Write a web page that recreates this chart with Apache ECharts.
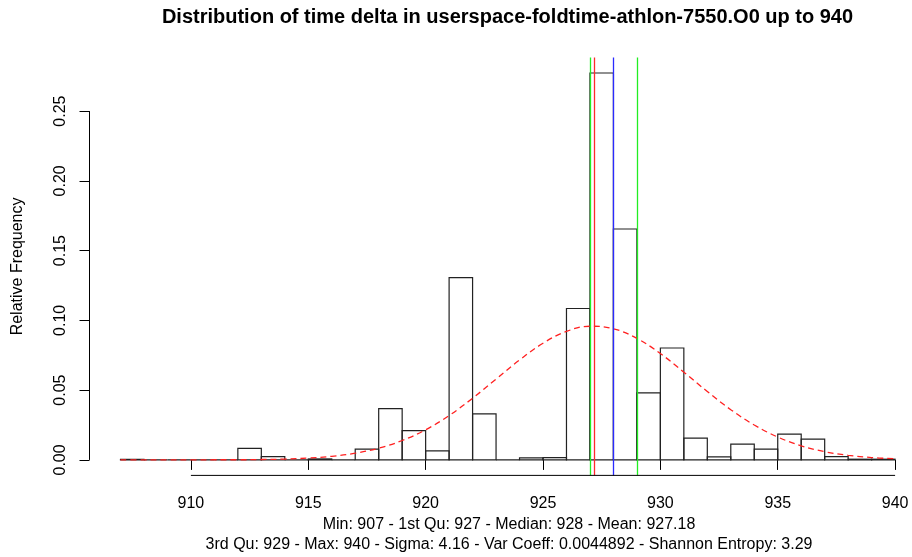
<!DOCTYPE html>
<html><head><meta charset="utf-8">
<script src="https://cdn.jsdelivr.net/npm/echarts@6/dist/echarts.min.js"></script>
<style>html,body{margin:0;padding:0;background:#fff}#c{width:912px;height:557px}</style>
</head><body><div id="c"></div>
<script>
// ---- data ----
const binStarts = [907,908,909,910,911,912,913,914,915,916,917,918,919,920,921,922,923,924,925,926,927,928,929,930,931,932,933,934,935,936,937,938,939];
const binEnds   = [908,909,910,911,912,913,914,915,916,917,918,919,920,921,922,923,924,925,926,927,928,929,930,931,932,933,934,935,936,937,938,939,940];
const relFreq   = [0.0004,0,0,0,0,0.0083,0.0024,0,0.0007,0,0.0077,0.0367,0.0210,0.0065,0.1307,0.0330,0,0.0015,0.0017,0.1085,0.2773,0.1655,0.0481,0.0802,0.0156,0.0022,0.0113,0.0077,0.0185,0.0149,0.0024,0.0005,0.0005];
const curveX = [907,908,909,910,911,912,913,914,915,916,917,918,919,920,921,922,923,924,925,926,927,928,929,930,931,932,933,934,935,936,937,938,939,940];
const curveY = [0,0,0,0,0.0001,0.0001,0.0003,0.0006,0.0013,0.0026,0.0048,0.0084,0.0139,0.0216,0.0318,0.0442,0.0579,0.0716,0.0836,0.0921,0.0958,0.0940,0.0871,0.0762,0.0629,0.0490,0.0360,0.0250,0.0164,0.0101,0.0059,0.0033,0.0017,0.0008];
const statNames  = ['1st Qu','Mean','Median','3rd Qu'];
const statValues = [927, 927.18, 928, 929];
const xTicks = [910,915,920,925,930,935,940];
const yTicks = [0,0.05,0.10,0.15,0.20,0.25];
const yTickLabels = ['0.00','0.05','0.10','0.15','0.20','0.25'];
const titleText = 'Distribution of time delta in userspace-foldtime-athlon-7550.O0 up to 940';
const subLine1 = 'Min: 907 - 1st Qu: 927 - Median: 928 - Mean: 927.18';
const subLine2 = '3rd Qu: 929 - Max: 940 - Sigma: 4.16 - Var Coeff: 0.0044892 - Shannon Entropy: 3.29';

// ---- styles / layout ----
const FONT = '"Liberation Sans", Arial, Helvetica, sans-serif';
const statColors = ['#22ee22','#ff2a2a','#2a2aff','#22ee22'];
const xMin = 905.68, xMax = 940.72, yMin = -0.0111, yMax = 0.2884;

const chart = echarts.init(document.getElementById('c'), null, {renderer:'canvas'});
chart.setOption({
  animation: false,
  backgroundColor: '#fff',
  textStyle: {fontFamily: FONT},
  title: [
    {text: titleText, left: 507.5, textAlign: 'center', top: 7, padding: 0,
     textStyle: {fontFamily: FONT, fontSize: 20, fontWeight: 'bold', color: '#000'}},
    {text: subLine1 + '\n' + subLine2, left: 509, textAlign: 'center', top: 515, padding: 0,
     textStyle: {fontFamily: FONT, fontSize: 16, fontWeight: 'normal', color: '#000', lineHeight: 19.5}}
  ],
  grid: {left: 89.5, top: 57.5, right: 0, height: 417.9, containLabel: false},
  xAxis: {
    type: 'value', min: xMin, max: xMax,
    axisLine: {show: false},
    splitLine: {show: false},
    axisTick: {show: true, length: 10, customValues: xTicks, lineStyle: {color: '#000', width: 1}},
    axisLabel: {show: true, customValues: xTicks, margin: 20, fontSize: 16, color: '#000', fontFamily: FONT,
                formatter: v => String(v)}
  },
  yAxis: {
    type: 'value', min: yMin, max: yMax,
    name: 'Relative Frequency', nameLocation: 'middle', nameRotate: 90, nameGap: 64,
    nameTextStyle: {fontSize: 16, color: '#000', fontFamily: FONT},
    axisLine: {show: false},
    splitLine: {show: false},
    axisTick: {show: true, length: 10, customValues: yTicks, lineStyle: {color: '#000', width: 1}},
    axisLabel: {show: true, customValues: yTicks, rotate: 90, margin: 21, fontSize: 16, color: '#000', fontFamily: FONT,
                formatter: v => yTickLabels[yTicks.findIndex(t => Math.abs(t - v) < 1e-9)] || ''}
  },
  series: [
    {
      type: 'custom', name: 'hist', silent: true, clip: false,
      data: binStarts.map((s, i) => [s, binEnds[i], relFreq[i]]),
      encode: {x: [0, 1], y: 2},
      renderItem: (params, api) => {
        const p1 = api.coord([api.value(0), api.value(2)]);
        const p2 = api.coord([api.value(1), 0]);
        return {type: 'rect',
          shape: {x: p1[0], y: p1[1], width: p2[0] - p1[0], height: p2[1] - p1[1]},
          style: {fill: 'none', stroke: '#222', lineWidth: 1.2}};
      },
      z: 2
    },
    {
      type: 'line', name: 'normal', silent: true, smooth: 0.4, symbol: 'none',
      data: curveX.map((x, i) => [x, curveY[i]]),
      lineStyle: {color: '#ff2020', width: 1.3, type: [6, 4]},
      z: 3
    },
    {
      type: 'line', name: 'stats', silent: true, symbol: 'none', data: [],
      markLine: {
        silent: true, symbol: ['none', 'none'], label: {show: false}, animation: false,
        data: statValues.map((v, i) => ({name: statNames[i], xAxis: v,
          lineStyle: {color: statColors[i], width: 1.3, type: 'solid', opacity: 1}}))
      },
      z: 4
    },
    {
      type: 'line', name: 'xaxisline', silent: true, symbol: 'none', clip: false,
      data: [[xTicks[0], yMin], [xTicks[xTicks.length - 1], yMin]],
      lineStyle: {color: '#000', width: 1}, z: 5
    },
    {
      type: 'line', name: 'yaxisline', silent: true, symbol: 'none', clip: false,
      data: [[xMin, yTicks[0]], [xMin, yTicks[yTicks.length - 1]]],
      lineStyle: {color: '#000', width: 1}, z: 5
    }
  ]
});
</script>
</body></html>
